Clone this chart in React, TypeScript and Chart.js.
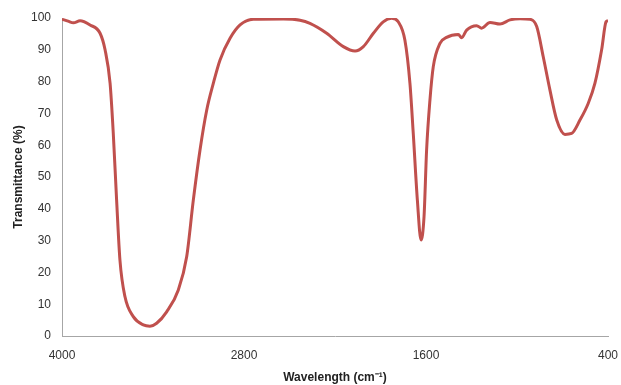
import React, { useEffect, useRef } from "react";
import { Chart, registerables } from "chart.js";

Chart.register(...registerables);

const wavenumbers = [
  4000, 3960, 3925, 3881, 3815, 3749, 3716, 3683, 3662, 3640, 3618, 3585, 3530, 3464, 3420, 3376,
  3310, 3233, 3178, 3134, 3090, 3046, 3002, 2958, 2892, 2826, 2739, 2541, 2431, 2365, 2255, 2145,
  2068, 2013, 1947, 1882, 1826, 1783, 1739, 1706, 1684, 1657, 1633, 1613, 1596, 1574, 1552, 1508,
  1464, 1387, 1365, 1332, 1266, 1233, 1178, 1112, 1046, 980, 914, 870, 827, 783, 738, 684, 640,
  585, 530, 486, 442, 413, 400,
];

const transmittance = [
  99.6, 99.0, 98.5, 99.1, 97.8, 95.2, 90, 79.5, 63.8, 42.8, 23.9, 12.4, 6.1, 3.5, 3.1, 4.0,
  7.6, 14.5, 24.9, 42.8, 58.5, 71, 79.5, 86.8, 93.6, 97.8, 99.6, 99.7, 99.3, 98.3, 95.2, 91,
  89.6, 91, 95.2, 98.8, 99.9, 98.8, 93, 79.5, 63.7, 42.8, 30.2, 37.5, 58.5, 74.2, 84.7, 92,
  93.9, 94.8, 93.8, 96.2, 97.6, 96.8, 98.6, 98.1, 99.4, 99.8, 99.6, 97.3, 87.8, 77.4, 67.9, 63.4, 63.7,
  67.9, 73.2, 79.5, 90, 98.8, 99.2,
];

const xTitle = "Wavelength (cm\u207B\u00B9)";
const yTitle = "Transmittance (%)";

export default function App() {
  const ref = useRef<HTMLCanvasElement | null>(null);

  useEffect(() => {
    document.body.style.margin = "0";
    if (!ref.current) return;
    const font = "'Liberation Sans', Arial, sans-serif";
    const chart = new Chart(ref.current, {
      type: "line",
      data: {
        datasets: [
          {
            data: wavenumbers.map((w, i) => ({ x: w, y: transmittance[i] })),
            borderColor: "#C0504D",
            borderWidth: 3,
            pointRadius: 0,
            cubicInterpolationMode: "monotone",
            fill: false,
          },
        ],
      },
      options: {
        animation: false,
        responsive: true,
        maintainAspectRatio: false,
        layout: { padding: { top: 18, right: 13, left: 0, bottom: 0 } },
        plugins: { legend: { display: false }, tooltip: { enabled: false } },
        scales: {
          x: {
            type: "linear",
            reverse: true,
            min: 400,
            max: 4000,
            grid: { display: false, drawTicks: false },
            border: { display: true, color: "#A6A6A6", width: 1 },
            ticks: {
              stepSize: 1200,
              padding: 12,
              color: "#333333",
              font: { family: font, size: 12 },
              maxRotation: 0,
              callback: (v: any) => String(v),
            },
            title: {
              display: true,
              text: xTitle,
              color: "#222222",
              font: { family: font, size: 12, weight: "bold" },
              padding: { top: 4, bottom: 0 },
            },
            afterFit: (s: any) => {
              s.height = 49;
              s.paddingLeft = 0;
              s.paddingRight = 0;
            },
          },
          y: {
            min: 0,
            max: 100,
            grid: { display: false, drawTicks: false },
            border: { display: true, color: "#A6A6A6", width: 1 },
            ticks: {
              stepSize: 10,
              padding: 11,
              color: "#333333",
              font: { family: font, size: 12 },
              callback: (v: any) => String(v),
            },
            title: {
              display: true,
              text: yTitle,
              color: "#222222",
              font: { family: font, size: 12, weight: "bold" },
              padding: { top: 11, bottom: 4 },
            },
            afterFit: (s: any) => {
              s.width = 62;
              s.paddingTop = 0;
              s.paddingBottom = 0;
            },
          },
        },
      },
    });
    return () => chart.destroy();
  }, []);

  return (
    <div style={{ width: 621, height: 385, position: "relative", background: "#fff" }}>
      <canvas ref={ref} />
    </div>
  );
}
